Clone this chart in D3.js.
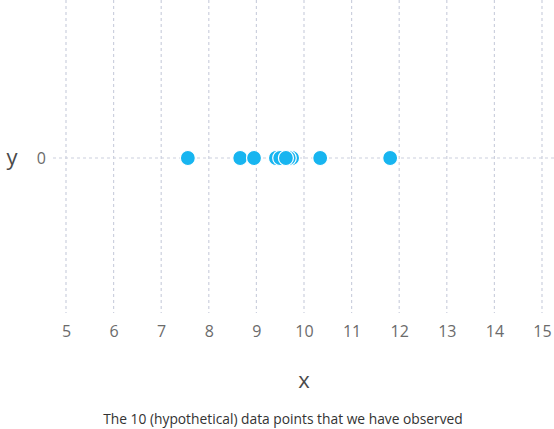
<!DOCTYPE html>
<html>
<head>
<meta charset="utf-8">
<script src="https://cdn.jsdelivr.net/npm/d3@7"></script>
<style>
  body { margin: 0; background: #fff; }
  text { font-family: "Open Sans", sans-serif; }
</style>
</head>
<body>
<div id="my_dataviz"></div>
<script>
// observed points (x), all at y = 0; drawn in this order
var xValues = [7.56, 8.66, 8.95, 9.41, 9.50, 9.75, 9.68, 9.62, 10.34, 11.81];
var yValues = [0, 0, 0, 0, 0, 0, 0, 0, 0, 0];
var xTicks = [5, 6, 7, 8, 9, 10, 11, 12, 13, 14, 15];
var yTicks = [0];
var xLabel = "x";
var yLabel = "y";
var caption = "The 10 (hypothetical) data points that we have observed";

var width = 554, height = 429;

var svg = d3.select("#my_dataviz")
  .append("svg")
    .attr("width", width)
    .attr("height", height);

var x = d3.scaleLinear().domain([5, 15]).range([66, 542]);
var y = d3.scaleLinear().domain([-1, 1]).range([313, 3]);

// vertical grid
svg.append("g")
  .selectAll("line")
  .data(xTicks)
  .enter()
  .append("line")
    .attr("x1", function(d) { return x(d); })
    .attr("x2", function(d) { return x(d); })
    .attr("y1", 0)
    .attr("y2", 313)
    .attr("stroke", "#ccd0de")
    .style("stroke-width", 1.2)
    .style("stroke-dasharray", "3, 3");

// horizontal grid
svg.append("g")
  .selectAll("line")
  .data(yTicks)
  .enter()
  .append("line")
    .attr("x1", 53)
    .attr("x2", width)
    .attr("y1", function(d) { return y(d); })
    .attr("y2", function(d) { return y(d); })
    .attr("stroke", "#ccd0de")
    .style("stroke-width", 1.2)
    .style("stroke-dasharray", "3, 3");

// x axis
var xAxis = svg.append("g")
  .attr("transform", "translate(0,313)")
  .call(d3.axisBottom(x).tickValues(xTicks).tickSize(0).tickPadding(13).tickFormat(d3.format("d")));
xAxis.select(".domain").remove();
xAxis.selectAll("text")
  .style("fill", "#6b6b6b")
  .style("font-size", "16px")
  .style("font-family", "'Open Sans', sans-serif");

// y axis
var yAxis = svg.append("g")
  .attr("transform", "translate(53,0)")
  .call(d3.axisLeft(y).tickValues(yTicks).tickSize(0).tickPadding(7).tickFormat(d3.format("d")));
yAxis.select(".domain").remove();
yAxis.selectAll("text")
  .style("fill", "#6b6b6b")
  .style("font-size", "16px")
  .style("font-family", "'Open Sans', sans-serif");

svg.append("text")
  .attr("x", 304)
  .attr("y", 388)
  .attr("text-anchor", "middle")
  .style("fill", "#4a4a4a")
  .style("font-size", "22px")
  .text(xLabel);

svg.append("text")
  .attr("x", 12)
  .attr("y", y(0) + 7)
  .attr("text-anchor", "middle")
  .style("fill", "#4a4a4a")
  .style("font-size", "22px")
  .text(yLabel);

svg.append("text")
  .attr("x", 283)
  .attr("y", 424)
  .attr("text-anchor", "middle")
  .style("fill", "#333")
  .style("font-size", "13.8px")
  .text(caption);

// points
svg.append("g")
  .selectAll("circle")
  .data(xValues.map(function(v, i) { return {x: v, y: yValues[i]}; }))
  .enter()
  .append("circle")
    .attr("cx", function(d) { return x(d.x); })
    .attr("cy", function(d) { return y(d.y); })
    .attr("r", 7.5)
    .attr("fill", "#17b5f0")
    .attr("stroke", "white")
    .style("stroke-width", 1.2);
</script>
</body>
</html>
